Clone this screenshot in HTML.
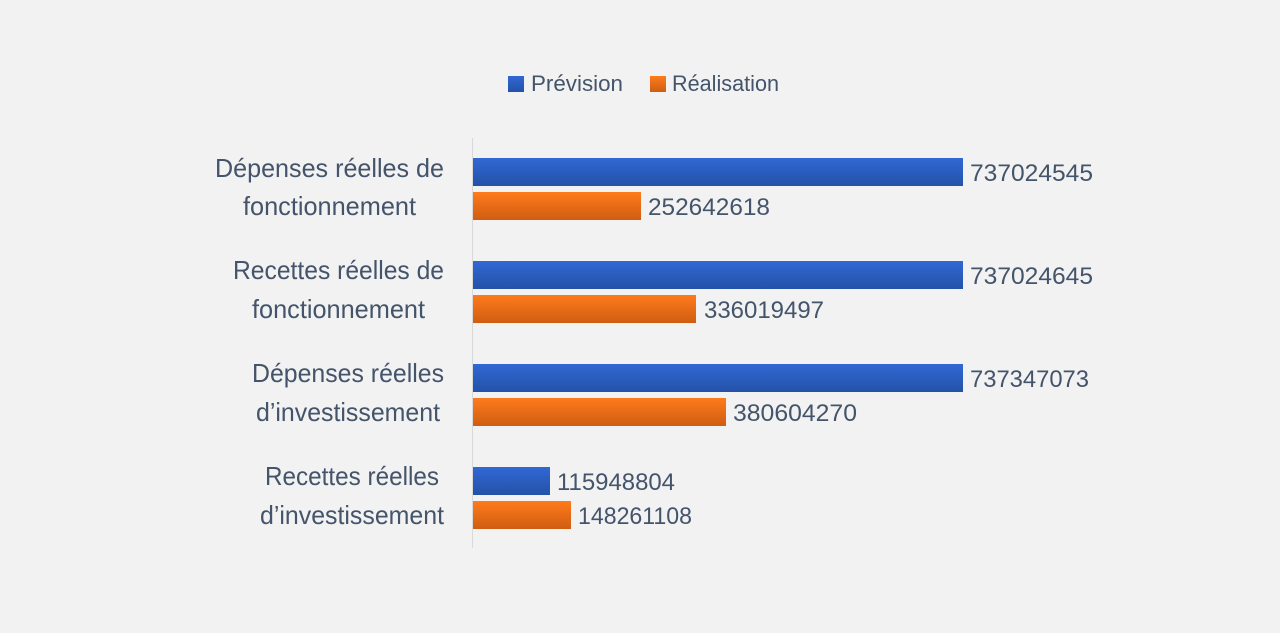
<!DOCTYPE html>
<html><head><meta charset="utf-8"><style>
html,body{margin:0;padding:0;background:#f2f2f2;}
svg{display:block}
text{font-family:"Liberation Sans",sans-serif;fill:#44546a;}
</style></head><body>
<svg width="1280" height="633" viewBox="0 0 1280 633">
<defs>
<linearGradient id="gb" x1="0" y1="0" x2="0" y2="1">
<stop offset="0" stop-color="#3168d4"/><stop offset="1" stop-color="#2452a8"/></linearGradient>
<linearGradient id="go" x1="0" y1="0" x2="0" y2="1">
<stop offset="0" stop-color="#ff7b1c"/><stop offset="1" stop-color="#cf5d12"/></linearGradient>
</defs>
<rect width="1280" height="633" fill="#f2f2f2"/>
<line x1="472.5" y1="138" x2="472.5" y2="548" stroke="#d9d9d9" stroke-width="1"/>
<!-- legend -->
<rect x="508" y="76" width="16" height="16" fill="url(#gb)"/>
<text x="531" y="91" font-size="22" textLength="92" lengthAdjust="spacingAndGlyphs">Prévision</text>
<rect x="650" y="76" width="16" height="16" fill="url(#go)"/>
<text x="672" y="91" font-size="22" textLength="107" lengthAdjust="spacingAndGlyphs">Réalisation</text>
<!-- bars -->
<g>
<rect x="473" y="158" width="490" height="28" fill="url(#gb)"/>
<rect x="473" y="192" width="168" height="28" fill="url(#go)"/>
<rect x="473" y="261" width="490" height="28" fill="url(#gb)"/>
<rect x="473" y="295" width="223" height="28" fill="url(#go)"/>
<rect x="473" y="364" width="490" height="28" fill="url(#gb)"/>
<rect x="473" y="398" width="253" height="28" fill="url(#go)"/>
<rect x="473" y="467" width="77" height="28" fill="url(#gb)"/>
<rect x="473" y="501" width="98" height="28" fill="url(#go)"/>
</g>
<g font-size="24">
<text x="970" y="181" textLength="123" lengthAdjust="spacingAndGlyphs">737024545</text>
<text x="648" y="215" textLength="122" lengthAdjust="spacingAndGlyphs">252642618</text>
<text x="970" y="284" textLength="123" lengthAdjust="spacingAndGlyphs">737024645</text>
<text x="704" y="318" textLength="120" lengthAdjust="spacingAndGlyphs">336019497</text>
<text x="970" y="387" textLength="119" lengthAdjust="spacingAndGlyphs">737347073</text>
<text x="733" y="421" textLength="124" lengthAdjust="spacingAndGlyphs">380604270</text>
<text x="557" y="490" textLength="118" lengthAdjust="spacingAndGlyphs">115948804</text>
<text x="578" y="524" textLength="114" lengthAdjust="spacingAndGlyphs">148261108</text>
</g>
<g font-size="26">
<text x="215" y="177" textLength="229" lengthAdjust="spacingAndGlyphs">Dépenses réelles de</text>
<text x="243" y="215" textLength="173" lengthAdjust="spacingAndGlyphs">fonctionnement</text>
<text x="233" y="279" textLength="211" lengthAdjust="spacingAndGlyphs">Recettes réelles de</text>
<text x="252" y="318" textLength="173" lengthAdjust="spacingAndGlyphs">fonctionnement</text>
<text x="252" y="382" textLength="192" lengthAdjust="spacingAndGlyphs">Dépenses réelles</text>
<text x="256" y="421" textLength="184" lengthAdjust="spacingAndGlyphs">d’investissement</text>
<text x="265" y="485" textLength="174" lengthAdjust="spacingAndGlyphs">Recettes réelles</text>
<text x="260" y="524" textLength="184" lengthAdjust="spacingAndGlyphs">d’investissement</text>
</g>
</svg>
</body></html>
